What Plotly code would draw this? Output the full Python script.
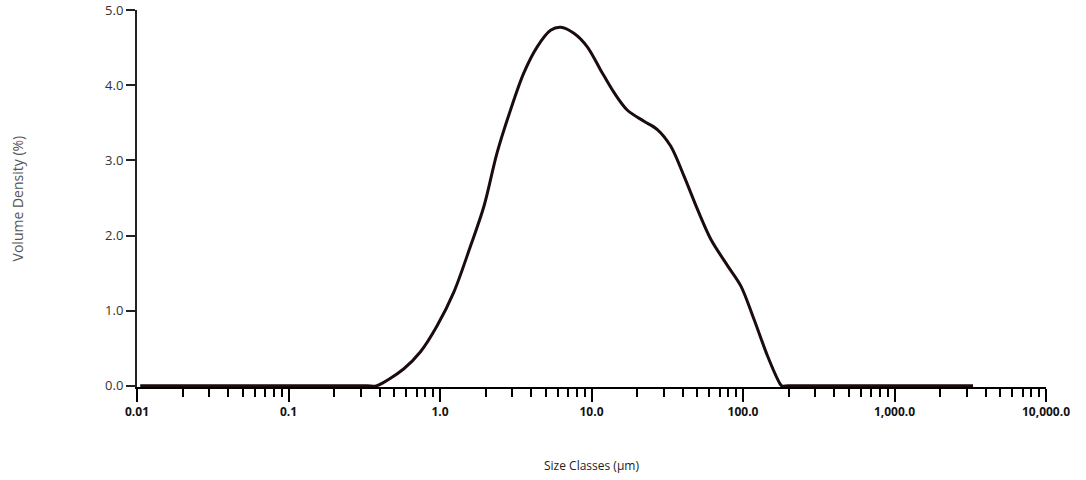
import plotly.graph_objects as go

# Size classes (µm) and volume density (%)
size_um = [0.0105, 0.1, 0.33, 0.38, 0.575, 0.741, 0.957, 1.23, 1.59, 1.95, 2.38, 2.92, 3.57,
           4.38, 5.37, 6.25, 7.65, 9.38, 11.5, 14.1, 17.2, 22.2, 27.2, 33.3,
           40.8, 50.0, 61.3, 79.0, 96.7, 118.0, 145.0, 173.0, 180.0, 200.0, 1000.0, 3300.0]
volume_density = [0.0, 0.0, 0.0, 0.0, 0.225, 0.45, 0.80, 1.24, 1.86, 2.39, 3.10, 3.67, 4.16,
                  4.51, 4.73, 4.77, 4.69, 4.51, 4.20, 3.90, 3.67, 3.52, 3.41, 3.19,
                  2.79, 2.35, 1.95, 1.60, 1.33, 0.89, 0.40, 0.05, 0.0, 0.0, 0.0, 0.0]

x_major = [0.01, 0.1, 1, 10, 100, 1000, 10000]
x_major_text = ["0.01", "0.1", "1.0", "10.0", "100.0", "1,000.0", "10,000.0"]
y_ticks = [0, 1, 2, 3, 4, 5]
y_tick_text = ["0.0", "1.0", "2.0", "3.0", "4.0", "5.0"]

x_minor = [m * d for d in [0.01, 0.1, 1, 10, 100, 1000] for m in range(2, 10)]

fig = go.Figure()
fig.add_trace(go.Scatter(
    x=size_um, y=volume_density, mode="lines",
    line=dict(color="#1a0c0c", width=3, shape="spline", smoothing=0.9),
    showlegend=False, hoverinfo="x+y",
))

fig.update_layout(
    width=1086, height=480,
    margin=dict(l=137, r=40, t=10, b=93, autoexpand=False),
    plot_bgcolor="white", paper_bgcolor="white",
    font=dict(family="Open Sans, Noto Sans, sans-serif", color="#222"),
    xaxis=dict(
        type="log", range=[-2, 4], automargin=False,
        tickvals=x_major, ticktext=x_major_text,
        tickfont=dict(size=12, color="#111", family="Open Sans, sans-serif", weight="bold"),
        showline=True, linecolor="black", linewidth=2,
        ticks="outside", ticklen=13, tickwidth=2, tickcolor="black",
        minor=dict(tickvals=x_minor, ticks="outside", ticklen=8, tickwidth=2, tickcolor="black"),
        showgrid=False, zeroline=False,
    ),
    yaxis=dict(
        range=[-0.015, 5.0], automargin=False,
        tickvals=y_ticks, ticktext=y_tick_text,
        tickfont=dict(size=13, color="#333"),
        showline=True, linecolor="#222", linewidth=2,
        ticks="outside", ticklen=9, tickwidth=2, tickcolor="#222",
        showgrid=False, zeroline=False,
    ),
    annotations=[
        dict(text="Volume Density (%)", xref="paper", yref="paper",
             x=-0.131, y=0.5, textangle=-90, showarrow=False,
             font=dict(size=14, color="#555"), xanchor="center", yanchor="middle"),
        dict(text="Size Classes (µm)", xref="paper", yref="paper",
             x=0.5, y=-0.207, showarrow=False,
             font=dict(size=12, color="#222"), xanchor="center", yanchor="middle"),
    ],
)

fig.write_html("out.html")
